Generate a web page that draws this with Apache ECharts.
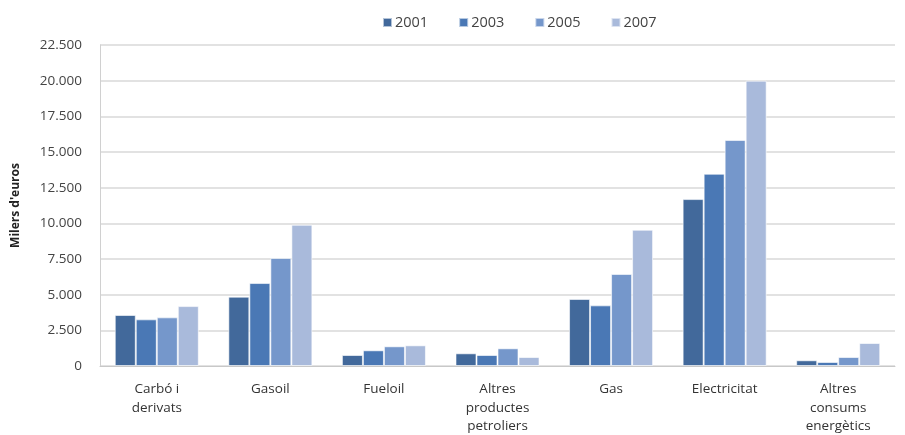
<!DOCTYPE html>
<html><head><meta charset="utf-8">
<script src="https://cdn.jsdelivr.net/npm/echarts@6/dist/echarts.min.js"></script>
<style>html,body{margin:0;padding:0;background:#fff}#c{width:905px;height:435px}</style>
</head><body><div id="c"></div>
<script>
const categories = ["Carbó i\nderivats","Gasoil","Fueloil","Altres\nproductes\npetroliers","Gas","Electricitat","Altres\nconsums\nenergètics"];
const years = ["2001","2003","2005","2007"];
const v2001 = [3575, 4860, 770, 890, 4695, 11700, 400];
const v2003 = [3270, 5815, 1100, 770, 4250, 13475, 280];
const v2005 = [3410, 7570, 1380, 1240, 6450, 15840, 630];
const v2007 = [4200, 9900, 1450, 630, 9550, 20000, 1610];
const colors = ["#42699b","#4a78b5","#7597cb","#a9badb"];
const seriesData = [v2001, v2003, v2005, v2007];
const chart = echarts.init(document.getElementById('c'));
chart.setOption({
  animation:false,
  color: colors,
  legend:{top:10,left:377,itemWidth:9,itemHeight:9,itemGap:30,icon:'rect',
    textStyle:{fontFamily:'Open Sans',fontSize:14.5,color:'#444',padding:[0,0,0,-2]},data:years},
  grid:{left:100,right:10,top:45,bottom:69,containLabel:false,outerBoundsMode:'none'},
  xAxis:{type:'category',data:categories,
    axisLine:{lineStyle:{color:'#c8c8c8'}},axisTick:{show:false},
    axisLabel:{fontFamily:'Open Sans',fontSize:13.5,color:'#333',lineHeight:18.5,margin:14}},
  yAxis:{type:'value',min:0,max:22500,interval:2500,
    name:"Milers d'euros",nameLocation:'middle',nameGap:78,
    nameTextStyle:{fontFamily:'Open Sans',fontSize:12,fontWeight:'bold',color:'#222'},
    axisLine:{show:true,lineStyle:{color:'#d0d0d0'}},
    splitLine:{lineStyle:{color:'#d9d9d9',width:1.5}},
    axisLabel:{fontFamily:'Open Sans',fontSize:13.5,color:'#444',margin:18,
      formatter:v=>v.toString().replace(/\B(?=(\d{3})+(?!\d))/g,'.')}},
  series: years.map((y,i)=>({name:y,type:'bar',data:seriesData[i],barGap:'0%',barCategoryGap:'26%',
    itemStyle:{borderColor:'rgba(255,255,255,0.6)',borderWidth:1}}))
});
</script></body></html>
